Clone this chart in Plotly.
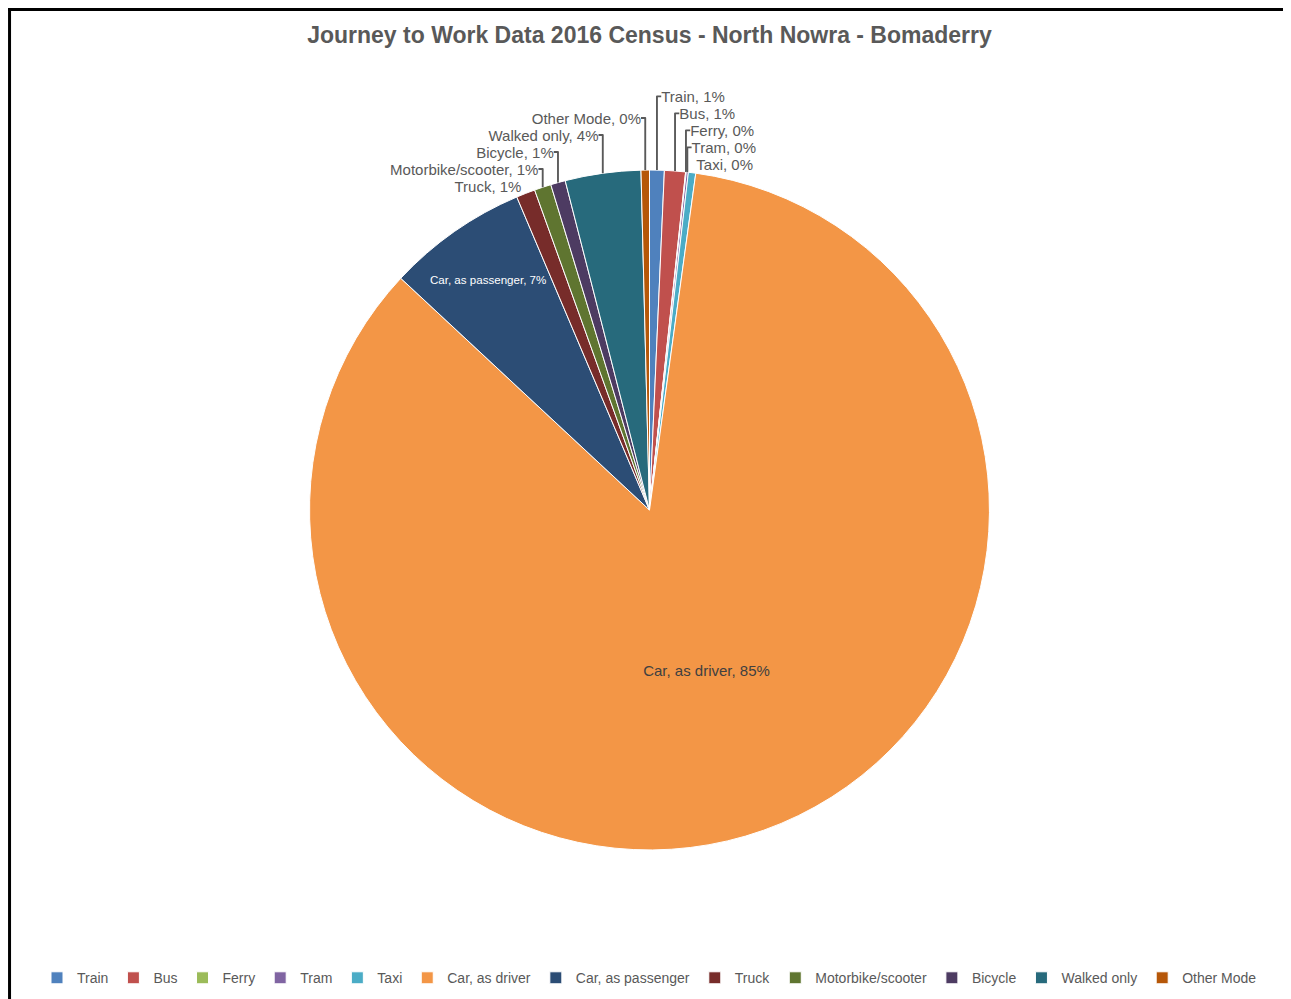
import plotly.graph_objects as go

modes = ["Train", "Bus", "Ferry", "Tram", "Taxi", "Car, as driver", "Car, as passenger",
         "Truck", "Motorbike/scooter", "Bicycle", "Walked only", "Other Mode"]
shares = [0.7, 1.0, 0.03, 0.1, 0.35, 85.0, 6.7, 0.9, 0.8, 0.7, 3.6, 0.4]
colors = ["#4F81BD", "#C0504D", "#9BBB59", "#8064A2", "#4BACC6", "#F39646", "#2C4D75",
          "#772C2A", "#5F7530", "#4D3B62", "#276A7C", "#B65708"]
positions = ["outside"] * 5 + ["inside", "inside"] + ["outside"] * 5
inside_font_colors = ["#404040"] * 5 + ["#404040", "#FFFFFF"] + ["#404040"] * 5

title = "Journey to Work Data 2016 Census - North Nowra - Bomaderry"
FONT = "Liberation Sans, Arial, sans-serif"

fig = go.Figure(go.Pie(
    labels=modes,
    values=shares,
    sort=False,
    direction="clockwise",
    rotation=0,
    marker=dict(colors=colors, line=dict(color="#FFFFFF", width=1)),
    textposition=positions,
    texttemplate="%{label}, %{percent:.0%}",
    insidetextorientation="horizontal",
    textfont=dict(family=FONT, size=15, color="#404040"),
    insidetextfont=dict(family=FONT, size=15, color=inside_font_colors),
    outsidetextfont=dict(family=FONT, size=15, color="#595959"),
    hoverinfo="label+percent",
    domain=dict(x=[0.0, 1.0], y=[0.1504, 0.8365]),
    automargin=False,
))

fig.update_layout(
    width=1283,
    height=991,
    paper_bgcolor="#FFFFFF",
    plot_bgcolor="#FFFFFF",
    margin=dict(l=0, r=0, t=0, b=0),
    title=dict(
        text="<b>" + title + "</b>",
        x=0.5, xanchor="center",
        xref="container", yref="container",
        y=0.973, yanchor="middle",
        font=dict(family=FONT, size=23, color="#595959"),
    ),
    legend=dict(
        orientation="h",
        x=0.5, xanchor="center",
        y=0.021, yanchor="middle",
        font=dict(family=FONT, size=14, color="#595959"),
        traceorder="normal",
    ),
    shapes=[
        dict(type="line", xref="paper", yref="paper", x0=0, x1=1, y0=0.9985, y1=0.9985,
             line=dict(color="#000000", width=3)),
        dict(type="line", xref="paper", yref="paper", x0=0.0012, x1=0.0012, y0=0, y1=1,
             line=dict(color="#000000", width=3)),
        dict(type="line", xref="paper", yref="paper", x0=0.9984, x1=0.9984, y0=0, y1=0.997,
             line=dict(color="#D9D9D9", width=1)),
    ],
)

fig.write_html("out.html")
